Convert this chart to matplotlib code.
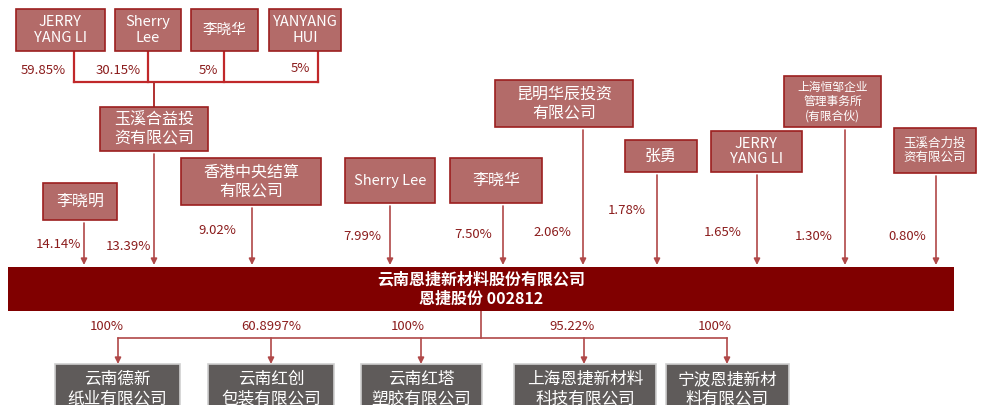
import matplotlib.pyplot as plt
from matplotlib.patches import Rectangle

plt.rcParams['font.family'] = ['Noto Sans CJK SC', 'DejaVu Sans']

# top-level holders of 玉溪合益
top_names = ['JERRY\nYANG LI', 'Sherry\nLee', '李晓华', 'YANYANG\nHUI']
top_pcts = ['59.85%', '30.15%', '5%', '5%']

# direct shareholders of the listed company
holder_names = ['李晓明', '玉溪合益投\n资有限公司', '香港中央结算\n有限公司', 'Sherry Lee', '李晓华',
                '昆明华辰投资\n有限公司', '张勇', 'JERRY\nYANG LI',
                '上海恒邹企业\n管理事务所\n(有限合伙)', '玉溪合力投\n资有限公司']
holder_pcts = ['14.14%', '13.39%', '9.02%', '7.99%', '7.50%', '2.06%', '1.78%', '1.65%', '1.30%', '0.80%']

main_name = '云南恩捷新材料股份有限公司\n恩捷股份 002812'

# subsidiaries
sub_names = ['云南德新\n纸业有限公司', '云南红创\n包装有限公司', '云南红塔\n塑胶有限公司',
             '上海恩捷新材料\n科技有限公司', '宁波恩捷新材\n料有限公司']
sub_pcts = ['100%', '60.8997%', '100%', '95.22%', '100%']

# layout (pixel coords, y downwards)
top_boxes = [(16, 9, 89, 42), (115, 9, 66, 42), (191, 9, 67, 42), (269, 9, 72, 42)]
top_line_x = [74, 148, 224, 318]
top_pct_xy = [(43, 70), (118, 70), (208, 70), (300, 68)]

holder_boxes = [(43, 183, 74, 37), (100, 107, 108, 44), (181, 158, 140, 47), (345, 158, 90, 45),
                (450, 158, 92, 45), (495, 80, 138, 47), (625, 140, 72, 32), (711, 131, 91, 41),
                (784, 76, 97, 51), (894, 128, 82, 45)]
holder_x = [84, 154, 252, 390, 503, 583, 657, 757, 845, 936]
holder_pct_xy = [(58, 244), (128, 246), (217, 231), (362, 237), (473, 234),
                 (552, 232), (627, 210), (723, 232), (814, 236), (907, 236)]
holder_fs = [11.5, 11.5, 11.5, 10.5, 11.5, 11.5, 11.5, 10.5, 8.5, 9]

sub_boxes = [(55, 364, 125, 50), (208, 364, 126, 50), (361, 364, 121, 50),
             (514, 364, 142, 50), (666, 364, 123, 50)]
sub_x = [118, 271, 421, 584, 727]
sub_pct_x = [107, 271, 408, 572, 715]

box_fill = '#b36b69'
box_edge = '#9c1f1f'
line_col = '#b04848'
pct_col = '#8b1c1c'
bar_col = '#800000'
sub_fill = '#5f5b5a'

fig = plt.figure(figsize=(9.83, 4.05), dpi=100)
ax = fig.add_axes([0, 0, 1, 1])
ax.set_xlim(0, 983)
ax.set_ylim(405, 0)
ax.axis('off')


def box(b, text, fill, edge, fs, weight='normal'):
    x, y, w, h = b
    ax.add_patch(Rectangle((x, y), w, h, facecolor=fill, edgecolor=edge, lw=1.2, zorder=2))
    ax.text(x + w / 2, y + h / 2, text, ha='center', va='center', color='white',
            fontsize=fs, fontweight=weight, linespacing=1.15, zorder=3)


def arrow(x, y0, y1):
    ax.annotate('', xy=(x, y1), xytext=(x, y0),
                arrowprops=dict(arrowstyle='-|>', color=line_col, lw=1.2, mutation_scale=9,
                                shrinkA=0, shrinkB=0), zorder=1)


# top row
for b, name, lx, (px, py), pct in zip(top_boxes, top_names, top_line_x, top_pct_xy, top_pcts):
    box(b, name, box_fill, box_edge, 10.5)
    ax.plot([lx, lx], [b[1] + b[3], 82], color='#c0282a', lw=1.6, zorder=1)
    ax.text(px, py, pct, ha='center', va='center', color=pct_col, fontsize=9.5)
ax.plot([top_line_x[0], top_line_x[-1]], [82, 82], color='#c0282a', lw=1.6, zorder=1)
ax.plot([154, 154], [82, 107], color='#b03030', lw=1.4, zorder=1)

# shareholders
for b, name, hx, (px, py), pct, fs in zip(holder_boxes, holder_names, holder_x, holder_pct_xy,
                                          holder_pcts, holder_fs):
    box(b, name, box_fill, box_edge, fs)
    arrow(hx, b[1] + b[3] + 3, 265)
    ax.text(px, py, pct, ha='center', va='center', color=pct_col, fontsize=9.5)

# main bar
ax.add_patch(Rectangle((8, 267), 946, 44, facecolor=bar_col, edgecolor='none', zorder=2))
ax.text(481, 289, main_name, ha='center', va='center', color='white', fontsize=11.5,
        fontweight='bold', linespacing=1.3, zorder=3)

# subsidiaries
ax.plot([481, 481], [311, 338], color=line_col, lw=1.2, zorder=1)
ax.plot([sub_x[0], sub_x[-1]], [338, 338], color=line_col, lw=1.2, zorder=1)
for b, name, sx, px, pct in zip(sub_boxes, sub_names, sub_x, sub_pct_x, sub_pcts):
    box(b, name, sub_fill, '#cfcfcf', 12)
    arrow(sx, 338, 364)
    ax.text(px, 326, pct, ha='center', va='center', color=pct_col, fontsize=9.5)

fig.savefig('out.png', dpi=100)
